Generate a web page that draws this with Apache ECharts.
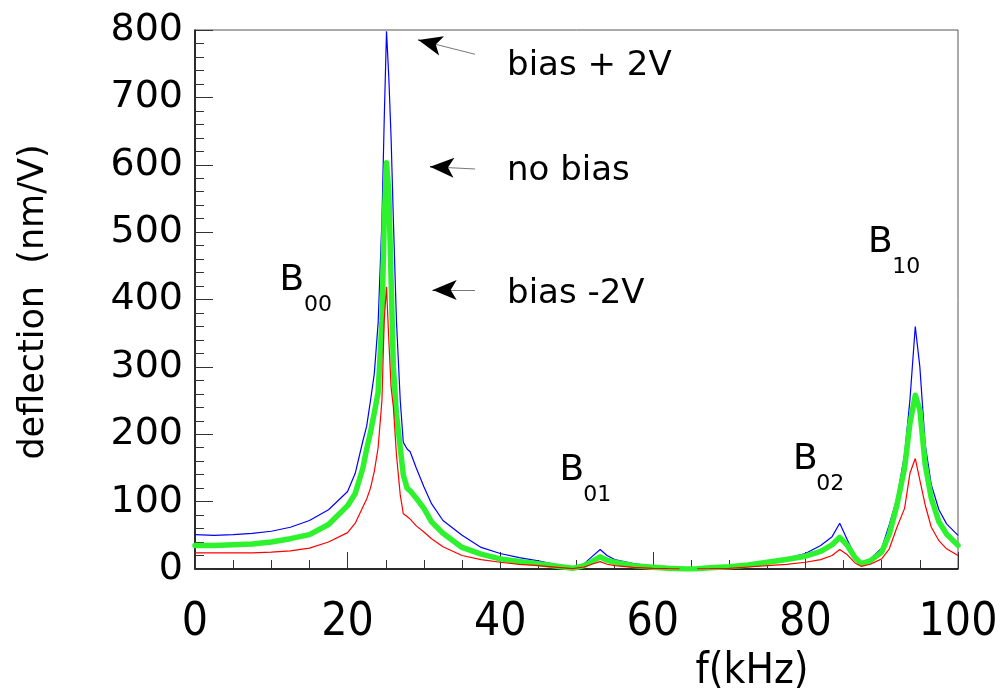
<!DOCTYPE html>
<html>
<head>
<meta charset="utf-8">
<script src="https://cdn.jsdelivr.net/npm/echarts@6/dist/echarts.min.js"></script>
<style>
html,body{margin:0;padding:0;background:#fff;}
#chart{width:1000px;height:696px;}
</style>
</head>
<body>
<div id="chart"></div>
<script>
// Frequency samples (kHz)
const freq = [0, 2.5, 5, 7.5, 10, 12.5, 15, 17.5, 20, 21,
  22, 22.5, 23, 23.5, 24, 24.5, 24.8, 25.1, 25.4, 25.7,
  26, 26.4, 26.9, 27.3, 27.8, 28.2, 29, 30, 31, 32.5,
  35, 37.5, 40, 42.5, 45, 47.5, 49.5, 51, 52, 53.1,
  54, 55, 57.5, 60, 62, 63.5, 64.5, 65.8, 67.5, 70,
  72.5, 75, 77.5, 80, 82, 83.5, 84.5, 85.5, 86.5, 87.3,
  88.5, 90, 91, 92, 93, 93.7, 94.4, 95, 95.7, 96.5,
  97.5, 98.5, 100];

// deflection (nm/V), bias + 2V (blue)
const biasPlus2 = [51, 50, 51, 53, 56, 62, 72, 88, 115, 142,
  190, 212, 250, 290, 365, 518, 667, 798, 730, 640,
  518, 369, 250, 188, 178, 174, 150, 122, 97, 72,
  50, 32, 23, 17, 12, 6, 1, 8, 18, 29,
  20, 14, 8, 4, 2, 1, null, 1, 2, 4,
  7, 11, 16, 23, 35, 48, 68, 43, 20, 9,
  15, 31, 66, 105, 170, 251, 360, 300, 185, 125,
  88, 67, 50];

// no bias (green)
const noBias = [35, 35, 36, 37, 40, 45, 51, 66, 94, 112,
  150, 178, 203, 232, 262, 369, 518, 603, 560, 430,
  300, 230, 180, 140, 120, 116, 105, 90, 70, 53,
  32, 22, 15, 11, 8, 4, 1, 5, 11, 18,
  13, 10, 5, 2.5, 1, 0.5, 0, 0.5, 2, 3.5,
  6, 10, 14, 19, 26, 36, 47, 35, 17, 8,
  12, 25, 52, 95, 150, 216, 258, 236, 155, 105,
  70, 52, 35];

// bias -2V (red)
const biasMinus2 = [24, 24, 24, 24, 25, 27, 31, 40, 54, 68,
  92, 104, 120, 145, 180, 250, 369, 419, 340, 270,
  240, 170, 110, 82, 78, 74, 64, 55, 45, 33,
  20, 14, 10, 7, 5, 2.5, 0.5, 3, 7, 11,
  7, 5, 2.5, 1, 0.5, 0.3, null, 0.3, 0.5, 1,
  3, 5, 7, 10, 14, 20, 29, 21, 9, 4,
  7, 15, 30, 62, 90, 142, 164, 132, 95, 62,
  42, 30, 20];

// Annotation texts
const curveNames = ['bias + 2V', 'no bias', 'bias -2V'];
const modeNames = [['B', '00'], ['B', '01'], ['B', '02'], ['B', '10']];

// annotation anchors in data units (kHz, nm/V)
const curveLabelAt = [[40.9, 746], [40.9, 590], [40.9, 408]];
const arrowTail = [[36.7, 764], [36.7, 593.7], [36.7, 414.1]];
const arrowNeck = [[31.05, 780.1], [32.63, 596.1], [32.99, 414.1]];
const arrowTip = [[29.27, 785.2], [30.80, 597.1], [31.15, 414.1]];
const modeLabelAt = [
  [[11.07, 428.2], [14.29, 391.2]],
  [[47.76, 146.2], [50.88, 109.2]],
  [[78.39, 163.0], [81.42, 125.6]],
  [[88.22, 484.0], [91.39, 448.0]]
];

const pair = (ys) => freq.map((f, i) => [f, ys[i]]);

const FONT = 'DejaVu Sans';
const FONT_C = 'DejaVu Sans Condensed';

const markPts = [];
curveNames.forEach((t, i) => {
  markPts.push({coord: curveLabelAt[i], label: {formatter: t, fontSize: 34}});
});
modeNames.forEach((m, i) => {
  markPts.push({coord: modeLabelAt[i][0], label: {formatter: m[0], fontSize: 36}});
  markPts.push({coord: modeLabelAt[i][1], label: {formatter: m[1], fontSize: 22}});
});

const shafts = arrowTail.map((a, i) => [{coord: a}, {coord: arrowTip[i]}]);
const heads = arrowNeck.map((a, i) => [{coord: a}, {coord: arrowTip[i]}]);

const chart = echarts.init(document.getElementById('chart'), null, {renderer: 'canvas'});
chart.setOption({
  animation: false,
  backgroundColor: '#ffffff',
  grid: {
    left: 195, right: 42, top: 30, bottom: 127,
    show: true, borderColor: '#555', borderWidth: 1,
    containLabel: false, outerBoundsMode: 'none'
  },
  xAxis: {
    type: 'value', min: 0, max: 100, interval: 20,
    axisLine: {onZero: false, lineStyle: {color: '#000', width: 1.5}},
    axisTick: {inside: true, length: 17, lineStyle: {color: '#333', width: 1}},
    minorTick: {show: true, splitNumber: 4, length: 9, lineStyle: {color: '#333', width: 1}},
    splitLine: {show: false},
    minorSplitLine: {show: false},
    axisLabel: {fontFamily: FONT_C, fontSize: 46, color: '#000', margin: 31}
  },
  yAxis: {
    type: 'value', min: 0, max: 800, interval: 100,
    axisLine: {onZero: false, lineStyle: {color: '#000', width: 1.5}},
    axisTick: {inside: true, length: 18, lineStyle: {color: '#333', width: 1}},
    minorTick: {show: true, splitNumber: 5, length: 9, lineStyle: {color: '#333', width: 1}},
    splitLine: {show: false},
    minorSplitLine: {show: false},
    axisLabel: {fontFamily: FONT, fontSize: 38, color: '#000', margin: 12}
  },
  graphic: [
    {type: 'text', x: 752, y: 672, style: {text: 'f(kHz)', font: '42px "' + FONT_C + '"', fill: '#000', align: 'center', verticalAlign: 'middle'}},
    {type: 'text', x: 34, y: 302, rotation: Math.PI / 2, style: {text: 'deflection  (nm/V)', font: '35px "' + FONT + '"', fill: '#000', align: 'center', verticalAlign: 'middle'}}
  ],
  series: [
    {
      name: 'bias + 2V', type: 'line', data: pair(biasPlus2), showSymbol: false,
      connectNulls: false, lineStyle: {color: '#0000ff', width: 1.2}, itemStyle: {color: '#0000ff'}, z: 2,
      markPoint: {
        symbol: 'circle', symbolSize: 0, silent: true, animation: false,
        label: {show: true, position: 'right', distance: 0, color: '#000', fontFamily: FONT, align: 'left', verticalAlign: 'middle'},
        data: markPts
      },
      markLine: {
        silent: true, animation: false,
        symbol: ['none', 'none'],
        lineStyle: {color: '#777', width: 1, type: 'solid'},
        label: {show: false},
        emphasis: {disabled: true},
        data: shafts
      }
    },
    {
      name: 'no bias', type: 'line', data: pair(noBias), showSymbol: false,
      connectNulls: false, lineStyle: {color: '#2ef22e', width: 5.5, join: 'round', cap: 'round'}, itemStyle: {color: '#2ef22e'}, z: 3,
      markLine: {
        silent: true, animation: false,
        symbol: ['none', 'arrow'], symbolSize: [15, 24],
        lineStyle: {color: '#000', width: 1, type: 'solid'},
        label: {show: false},
        emphasis: {disabled: true},
        data: heads
      }
    },
    {
      name: 'bias -2V', type: 'line', data: pair(biasMinus2), showSymbol: false,
      connectNulls: false, lineStyle: {color: '#ff0000', width: 1.2}, itemStyle: {color: '#ff0000'}, z: 4
    }
  ]
});
</script>
</body>
</html>
